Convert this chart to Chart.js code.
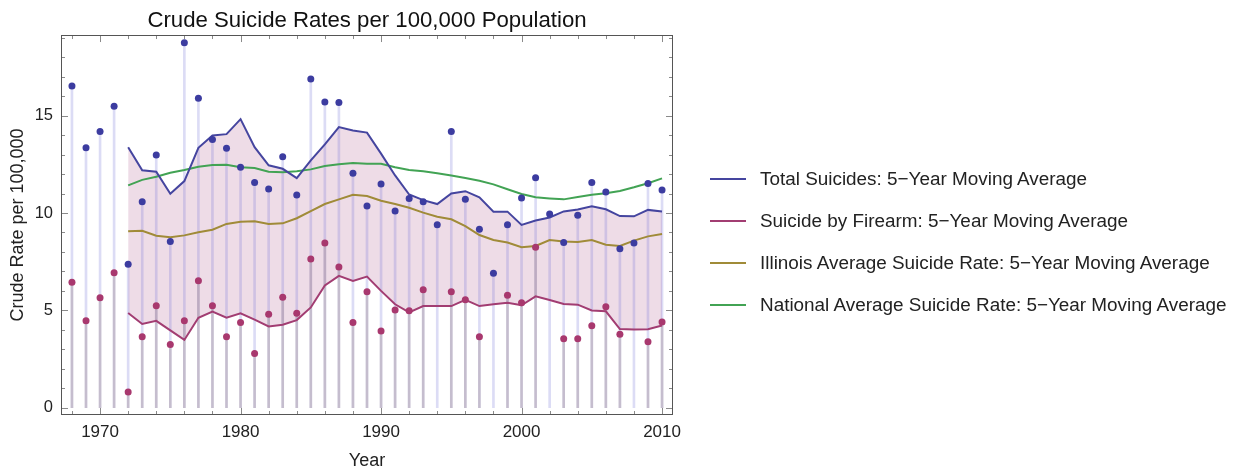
<!DOCTYPE html>
<html><head><meta charset="utf-8">
<script src="https://cdn.jsdelivr.net/npm/chart.js@4.4.1/dist/chart.umd.min.js"></script>
<style>
html,body{margin:0;padding:0;background:#fff;}
#wrap{position:relative;width:1237px;height:470px;overflow:hidden;}
#c{position:absolute;left:0;top:0;}
.leg{position:absolute;left:710px;height:22px;display:flex;align-items:center;font:18.9px "Liberation Sans",Arial,sans-serif;color:#222;white-space:nowrap;}
.leg .sw{display:inline-block;width:36px;height:2px;margin-right:14px;}
</style></head>
<body>
<div id="wrap"><canvas id="c" width="1237" height="470"></canvas><div id="legend"></div></div>
<script>
// ---- data ----
const years = [1968,1969,1970,1971,1972,1973,1974,1975,1976,1977,1978,1979,1980,1981,1982,1983,1984,1985,1986,1987,1988,1989,1990,1991,1992,1993,1994,1995,1996,1997,1998,1999,2000,2001,2002,2003,2004,2005,2006,2007,2008,2009,2010];
const totalRate = [16.52,13.35,14.18,15.48,7.37,10.58,12.98,8.53,18.75,15.89,13.77,13.32,12.35,11.56,11.23,12.89,10.92,16.88,15.70,15.67,12.04,10.36,11.49,10.10,10.75,10.58,9.40,14.18,10.70,9.16,6.90,9.40,10.77,11.81,9.95,8.49,9.88,11.56,11.08,8.17,8.46,11.52,11.18];
const firearmRate = [6.44,4.47,5.65,6.93,0.81,3.65,5.24,3.24,4.47,6.52,5.24,3.65,4.38,2.79,4.80,5.67,4.85,7.64,8.46,7.23,4.38,5.96,3.94,5.02,4.98,6.06,null,5.96,5.55,3.65,null,5.77,5.39,8.24,null,3.54,3.54,4.21,5.19,3.77,null,3.39,4.40];
const maYears = [1972,1973,1974,1975,1976,1977,1978,1979,1980,1981,1982,1983,1984,1985,1986,1987,1988,1989,1990,1991,1992,1993,1994,1995,1996,1997,1998,1999,2000,2001,2002,2003,2004,2005,2006,2007,2008,2009,2010];
const totalMA = [13.38,12.19,12.12,10.99,11.64,13.35,13.98,14.05,14.82,13.38,12.45,12.27,11.79,12.70,13.52,14.41,14.24,14.13,13.05,11.93,10.95,10.66,10.46,11.00,11.12,10.80,10.07,10.07,9.39,9.61,9.77,10.08,10.18,10.34,10.19,9.84,9.83,10.16,10.08];
const firearmMA = [4.86,4.30,4.46,3.97,3.48,4.62,4.94,4.62,4.85,4.52,4.17,4.26,4.50,5.15,6.28,6.77,6.51,6.73,6.00,5.31,4.90,5.22,5.22,5.22,5.54,5.22,5.31,5.39,5.26,5.72,5.53,5.33,5.29,4.99,4.95,4.04,4.02,4.03,4.22];
const illinoisMA = [9.06,9.09,8.83,8.75,8.85,9.01,9.14,9.44,9.55,9.58,9.43,9.47,9.73,10.10,10.46,10.70,10.94,10.87,10.63,10.46,10.27,10.02,9.81,9.68,9.33,8.87,8.61,8.48,8.24,8.31,8.61,8.53,8.51,8.61,8.37,8.31,8.58,8.80,8.92];
const nationalMA = [11.42,11.70,11.86,12.07,12.21,12.38,12.47,12.48,12.35,12.31,12.12,12.09,12.14,12.24,12.41,12.50,12.57,12.53,12.53,12.35,12.21,12.14,12.04,11.93,11.80,11.66,11.47,11.22,10.98,10.81,10.75,10.70,10.82,10.94,11.01,11.13,11.32,11.53,11.78];
const seriesNames = ["Total Suicides: 5\u2212Year Moving Average","Suicide by Firearm: 5\u2212Year Moving Average","Illinois Average Suicide Rate: 5\u2212Year Moving Average","National Average Suicide Rate: 5\u2212Year Moving Average"];
const xTickLabels = [1970,1980,1990,2000,2010];
const yTickLabels = [0,5,10,15];
const titleText = "Crude Suicide Rates per 100,000 Population";
const xTitle = "Year";
const yTitle = "Crude Rate per 100,000";

// ---- styles ----
const FONT = '"Liberation Sans", Arial, sans-serif';
const COL = {
  blue:'#45459f', blueDot:'#3c3ca0', mag:'#a23d72', magDot:'#a8386e',
  olive:'#a08b38', green:'#42a354',
  fill:'rgba(165,70,125,0.19)', blueStem:'rgba(110,110,215,0.24)', magStem:'rgba(150,125,125,0.32)'
};
const lineColors = [COL.blue, COL.mag, COL.olive, COL.green];

const pts = (xs, ys) => xs.map((x,i) => ({x:x, y:ys[i]}));

// legend (HTML)
const legendTops = [179,221,263,305];
const lg = document.getElementById('legend');
seriesNames.forEach((n,i) => {
  const d = document.createElement('div');
  d.className = 'leg';
  d.style.top = (legendTops[i]-11)+'px';
  const sw = document.createElement('span'); sw.className='sw'; sw.style.background = lineColors[i];
  d.appendChild(sw); d.appendChild(document.createTextNode(n));
  lg.appendChild(d);
});

const framePlugin = {
  id:'frameTicks',
  afterDatasetsDraw(chart){
    const {ctx, chartArea:a, scales:{x, y}} = chart;
    ctx.save();
    ctx.lineWidth = 1;
    ctx.strokeStyle = '#8a8a8a';
    const seg = (x1,y1,x2,y2) => { ctx.beginPath(); ctx.moveTo(x1,y1); ctx.lineTo(x2,y2); ctx.stroke(); };
    for (let v = 1968; v <= 2010; v += 2) {
      const px = Math.round(x.getPixelForValue(v)) + 0.5;
      const len = (v % 10 === 0) ? 7 : 4;
      seg(px, a.bottom, px, a.bottom - len);
      seg(px, a.top, px, a.top + len);
    }
    for (let v = 0; v <= 19; v += 1) {
      const py = Math.round(y.getPixelForValue(v)) + 0.5;
      const len = (v % 5 === 0) ? 7 : 4;
      seg(a.left, py, a.left + len, py);
      seg(a.right, py, a.right - len, py);
    }
    ctx.strokeStyle = '#555';
    ctx.strokeRect(Math.round(a.left)+0.5, Math.round(a.top)+0.5, Math.round(a.right-a.left)-1, Math.round(a.bottom-a.top)-1);
    ctx.restore();
  }
};

Chart.defaults.font.family = FONT;
Chart.defaults.color = '#222';

new Chart(document.getElementById('c'), {
  type:'line',
  data:{ datasets:[
    {label:seriesNames[0], data:pts(maYears,totalMA), borderColor:COL.blue, borderWidth:2, pointRadius:0, tension:0, fill:'+1', backgroundColor:COL.fill, order:2},
    {label:seriesNames[1], data:pts(maYears,firearmMA), borderColor:COL.mag, borderWidth:2, pointRadius:0, tension:0, fill:false, order:2},
    {label:seriesNames[2], data:pts(maYears,illinoisMA), borderColor:COL.olive, borderWidth:2, pointRadius:0, tension:0, fill:false, order:2},
    {label:seriesNames[3], data:pts(maYears,nationalMA), borderColor:COL.green, borderWidth:2, pointRadius:0, tension:0, fill:false, order:2},
    {label:'Total', data:pts(years,totalRate), showLine:false, pointRadius:3.5, pointBackgroundColor:COL.blueDot, pointBorderWidth:0, fill:false, order:1},
    {label:'Firearm', data:pts(years,firearmRate), showLine:false, pointRadius:3.5, pointBackgroundColor:COL.magDot, pointBorderWidth:0, fill:false, order:1},
    {type:'bar', label:'TotalStem', data:pts(years,totalRate), backgroundColor:COL.blueStem, barThickness:2, grouped:false, order:6},
    {type:'bar', label:'FirearmStem', data:pts(years,firearmRate), backgroundColor:COL.magStem, barThickness:2, grouped:false, order:5}
  ]},
  options:{
    responsive:false, animation:false, events:[],
    layout:{padding:{left:0, right:564, top:0, bottom:0}},
    plugins:{
      legend:{display:false}, tooltip:{enabled:false},
      filler:{drawTime:'beforeDatasetsDraw'},
      title:{display:true, text:titleText, fullSize:false, color:'#111', font:{size:22.2, weight:'normal', family:FONT, lineHeight:1.2}, padding:{top:8, bottom:0.4}}
    },
    scales:{
      x:{type:'linear', min:1967.22, max:2010.78, offset:false,
         grid:{display:false, drawTicks:false}, border:{display:false},
         afterBuildTicks:s => { s.ticks = xTickLabels.map(v => ({value:v})); },
         afterFit:s => { s.height = 55; s.paddingLeft = 0; s.paddingRight = 0; },
         ticks:{callback:v => String(v), font:{size:17, family:FONT}, color:'#222', padding:7, maxRotation:0, autoSkip:false},
         title:{display:true, text:xTitle, font:{size:18, family:FONT, lineHeight:1.0}, color:'#222', padding:{top:0, bottom:0}}
      },
      y:{type:'linear', min:-0.375, max:19.14,
         grid:{display:false, drawTicks:false}, border:{display:false},
         afterBuildTicks:s => { s.ticks = yTickLabels.map(v => ({value:v})); },
         afterFit:s => { s.width = 61; s.paddingTop = 0; s.paddingBottom = 0; },
         ticks:{callback:v => String(v), font:{size:16.5, family:FONT}, color:'#222', padding:8},
         title:{display:true, text:yTitle, font:{size:18, family:FONT}, color:'#222', padding:{top:7, bottom:0}}
      }
    }
  },
  plugins:[framePlugin]
});
</script>
</body></html>
